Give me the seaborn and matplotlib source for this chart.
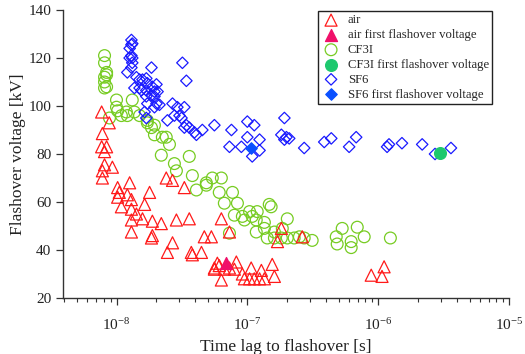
import numpy as np
import pandas as pd
import matplotlib
matplotlib.use("Agg")
import matplotlib.pyplot as plt
import seaborn as sns
from matplotlib.ticker import LogLocator, NullFormatter, FuncFormatter

# ---------------- data ----------------
air_t = [7.7e-9, 8.8e-9, 7.8e-9, 7.7e-9, 8.4e-9, 8.1e-9, 8.1e-9, 9.3e-9, 7.8e-9, 7.8e-9,
         1.02e-8, 1.26e-8, 1.05e-8, 1.02e-8, 1.21e-8, 1.79e-8, 1.3e-8, 1.09e-8, 1.3e-8, 1.64e-8,
         1.42e-8, 1.3e-8, 1.58e-8, 1.88e-8, 2.2e-8, 2.87e-8, 3.6e-8, 2.4e-8, 2.68e-8, 3.3e-8,
         1.3e-8, 1.88e-8, 1.85e-8, 2.68e-8, 2.45e-8, 3.73e-8, 3.8e-8, 4.46e-8, 4.69e-8, 5.31e-8,
         5.6e-8, 6.33e-8, 7.3e-8,
         5.9e-8, 8.24e-8, 5.6e-8, 6.33e-8, 7.96e-8, 9.16e-8, 1.07e-7, 1.28e-7, 1.55e-7, 1.61e-7,
         1.04e-7, 1.13e-7, 1.24e-7, 1.35e-7, 9.5e-8, 6.67e-8, 6.1e-8, 7.3e-8,
         1.82e-7, 1.7e-7, 2.63e-7,
         8.85e-7, 1.11e-6, 1.07e-6]
air_v = [97.5, 93, 88.5, 83, 83, 81, 75.5, 74.5, 73, 70,
         66, 68, 64, 62, 63, 64, 61, 58, 57, 59,
         55, 52.5, 53, 52, 51, 52.5, 53, 70, 69, 66,
         47.5, 46, 45, 43, 39, 39, 38, 39, 45.5, 45.5,
         32.5, 53, 47.5,
         34.5, 35, 32, 27.5, 32, 30, 32.5, 31.5, 34, 29,
         28, 28, 28, 28, 28, 32, 33.5, 32.5,
         49, 43.5, 45.5,
         29.5, 33, 29]
air_first_t = [6.9e-8]
air_first_v = [34.5]

cf3i_t = [8.1e-9, 8.1e-9, 8.4e-9, 8.4e-9, 8.1e-9, 8.1e-9, 8.4e-9, 8.1e-9,
          1.0e-8, 1.0e-8, 1.02e-8, 8.84e-9, 1.09e-8, 1.19e-8, 1.21e-8, 1.32e-8, 1.37e-8, 1.5e-8,
          1.72e-8, 1.72e-8, 1.85e-8, 1.95e-8, 1.95e-8, 2.24e-8, 2.4e-8, 2.54e-8,
          2.2e-8, 2.77e-8, 2.87e-8, 3.6e-8, 3.8e-8, 4.86e-8, 4.08e-8, 6.33e-8, 6.1e-8, 5.4e-8,
          4.86e-8, 7.7e-8, 6.67e-8, 8.4e-8, 1.04e-7, 1.19e-7, 1.47e-7, 1.52e-7, 7.96e-8, 9.5e-8,
          1.17e-7, 1.35e-7, 1.35e-7, 1.17e-7, 1.61e-7, 2.02e-7, 1.85e-7, 1.42e-7, 1.61e-7, 1.82e-7,
          2.02e-7, 2.28e-7, 2.5e-7, 2.72e-7, 3.13e-7, 7.3e-8, 9.16e-8, 1.09e-7,
          5.31e-7, 6.92e-7, 4.78e-7, 4.86e-7, 6.22e-7, 6.22e-7, 7.82e-7, 1.24e-6]
cf3i_v = [121, 118, 114, 113, 112, 110, 108, 107.5,
          102.5, 99.5, 98, 95, 96, 97.5, 96, 102.5, 97.5, 96,
          94, 93, 91, 92, 88, 87, 87, 84,
          79.5, 76, 73, 79, 71, 68, 65, 70, 64, 70,
          67, 64, 59.5, 59.5, 56, 56, 59, 58, 54.5, 52.5,
          52.5, 51.5, 49, 47.5, 47.5, 53, 49, 45, 45, 45,
          45, 45, 45.5, 45, 44, 47, 54, 54,
          49, 49.5, 45.5, 42.5, 43.5, 41, 45.5, 45]
cf3i_first_t = [2.97e-6]
cf3i_first_v = [80.5]

sf6_t = [1.3e-8, 1.32e-8, 1.3e-8, 1.26e-8, 1.3e-8, 1.32e-8, 1.26e-8, 1.32e-8, 1.3e-8, 1.21e-8,
         1.42e-8, 1.5e-8, 1.58e-8, 1.69e-8, 1.85e-8, 3.19e-8, 3.42e-8, 1.37e-8, 1.5e-8, 1.55e-8,
         1.72e-8, 1.88e-8, 2.02e-8, 1.95e-8, 2.06e-8, 1.69e-8, 1.69e-8, 1.85e-8, 1.95e-8, 2.02e-8,
         1.72e-8, 1.95e-8, 2.13e-8, 1.64e-8, 1.69e-8, 2.68e-8, 2.92e-8, 3.3e-8, 2.77e-8, 3.03e-8,
         2.45e-8, 3.14e-8, 3.42e-8, 3.3e-8, 3.6e-8, 4.08e-8, 3.94e-8, 4.53e-8, 5.6e-8, 7.56e-8,
         1.0e-7, 1.13e-7, 7.3e-8, 9.0e-8, 1.0e-7, 1.24e-7, 1.24e-7, 1.09e-7, 1.92e-7, 1.82e-7,
         1.99e-7, 2.09e-7, 1.92e-7, 2.72e-7, 3.87e-7, 4.38e-7, 6.0e-7, 6.79e-7, 1.17e-6, 1.21e-6,
         1.52e-6, 2.17e-6, 2.72e-6, 3.6e-6]
sf6_v = [127.5, 126, 125.5, 124, 121, 120, 120, 118, 116, 114,
         112, 111, 111, 111.5, 116, 118, 110.5, 107.5, 107.5, 106.5,
         109.5, 108, 109, 106, 106, 106.5, 104, 104.5, 104, 101,
         101, 99.5, 100.5, 97.5, 95, 101, 99.5, 99.5, 96, 96,
         94, 95, 92, 91, 91, 88, 89, 90, 92, 90,
         93.5, 92, 83, 83, 87, 86, 81.5, 79, 95, 88,
         87, 86.5, 86, 82.5, 85, 86.5, 83, 87, 83, 84,
         84.5, 84, 80, 82.5]
sf6_first_t = [1.07e-7]
sf6_first_v = [82.5]

labels = ["air", "air first flashover voltage", "CF3I", "CF3I first flashover voltage",
          "SF6", "SF6 first flashover voltage"]

# ---------------- style ----------------
sns.set_style("ticks")
plt.rcParams["font.family"] = ["Liberation Serif", "DejaVu Serif"]
plt.rcParams["mathtext.fontset"] = "custom"
plt.rcParams["mathtext.rm"] = "Liberation Serif"
plt.rcParams["mathtext.it"] = "Liberation Serif:italic"
plt.rcParams["mathtext.bf"] = "Liberation Serif:bold"

fig = plt.figure(figsize=(5.25, 3.54), dpi=100)
ax = fig.add_axes([63 / 525, 1 - 298 / 354, (509 - 63) / 525, (298 - 10) / 354])

red = "#ff1a1a"
green = "#77cc22"
blue = "#1a1aff"

sns.scatterplot(x=air_t, y=air_v, marker="^", s=75, facecolor="none", edgecolor=red,
                linewidth=0.9, ax=ax, label=labels[0], zorder=3)
sns.scatterplot(x=air_first_t, y=air_first_v, marker="^", s=75, color="#f0106a",
                edgecolor="#f0106a", linewidth=0.9, ax=ax, label=labels[1], zorder=5)
sns.scatterplot(x=cf3i_t, y=cf3i_v, marker="o", s=72, facecolor="none", edgecolor=green,
                linewidth=0.9, ax=ax, label=labels[2], zorder=2)
sns.scatterplot(x=cf3i_first_t, y=cf3i_first_v, marker="o", s=72, color="#1ec86e",
                edgecolor="#1ec86e", linewidth=0.9, ax=ax, label=labels[3], zorder=5)
sns.scatterplot(x=sf6_t, y=sf6_v, marker="D", s=34, facecolor="none", edgecolor=blue,
                linewidth=0.9, ax=ax, label=labels[4], zorder=2)
sns.scatterplot(x=sf6_first_t, y=sf6_first_v, marker="D", s=34, color="#0a50ff",
                edgecolor="#0a50ff", linewidth=0.9, ax=ax, label=labels[5], zorder=5)

ax.set_xscale("log")
ax.set_xlim(3.9e-9, 1e-5)
ax.set_ylim(20, 140)
ax.set_yticks([20, 40, 60, 80, 100, 120, 140])
ax.xaxis.set_major_locator(LogLocator(base=10, numticks=10))
ax.xaxis.set_major_formatter(FuncFormatter(lambda v, p: r"$10^{%d}$" % int(round(np.log10(v)))))
ax.xaxis.set_minor_locator(LogLocator(base=10, subs=np.arange(2, 10), numticks=20))
ax.xaxis.set_minor_formatter(NullFormatter())

for side in ["top", "right"]:
    ax.spines[side].set_visible(False)
for side in ["left", "bottom"]:
    ax.spines[side].set_color("#333333")
    ax.spines[side].set_linewidth(1.0)

ax.tick_params(axis="both", which="major", direction="out", length=5, width=0.9,
               color="#333333", labelsize=11, labelcolor="#222222")
ax.tick_params(axis="x", which="major", pad=9)
ax.tick_params(axis="x", which="minor", direction="out", length=3, width=0.8, color="#333333")
for lab in ax.get_yticklabels():
    lab.set_fontfamily(["Liberation Serif", "DejaVu Serif"])

ax.set_xlabel("Time lag to flashover [s]", fontsize=12.5, color="#222222", labelpad=4)
ax.set_ylabel("Flashover voltage [kV]", fontsize=12.5, color="#222222", labelpad=2)

leg = ax.legend(loc="upper right", bbox_to_anchor=(0.965, 1.0), fontsize=9.2, frameon=True,
                fancybox=False, framealpha=1, edgecolor="#222222", borderpad=0.25,
                labelspacing=0.22, handletextpad=0.55, borderaxespad=0.1, handlelength=1.5)
leg.get_frame().set_linewidth(1.0)

fig.savefig("out.png", dpi=100)
